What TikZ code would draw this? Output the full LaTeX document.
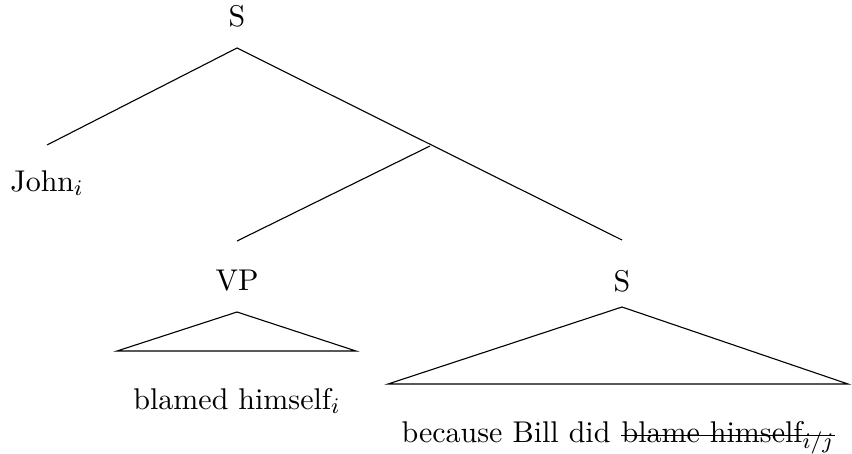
\documentclass[tikz,border=0pt]{standalone}
\tikzset{
  branch/.style={draw=black, line width=0.4pt},
  lab/.style={inner sep=0pt, font=\fontsize{10.8}{13}\selectfont}
}
\begin{document}
\begin{tikzpicture}[x=0.36pt, y=-0.36pt]
  \useasboundingbox (0,0) rectangle (852,453);
  % labels
  \node[lab] (root) at (237,16) {S};
  \node[lab] (john) at (47,183) {John$_i$};
  \node[lab] (vp) at (237,281) {VP};
  \node[lab] (s2) at (622,281) {S};
  \node[lab] (vpyield) at (237,401) {blamed himself$_i$};
  \node[lab, anchor=base west] (syield) at (401,442) {because Bill did\strut};
  \node[lab, anchor=base west] (deleted) at ([xshift=3.6pt]syield.base east) {blame himself$_{i/j}$};
  % strike-through over the deleted material
  \draw[branch] ([yshift=2.5pt]deleted.base west) -- ([yshift=2.5pt]deleted.base east);
  % branch end points
  \coordinate (rootbot) at (237,48);
  \coordinate (johntop) at (47,145);
  \coordinate (mid) at (430,146);
  \coordinate (vptop) at (237,241);
  \coordinate (s2top) at (622,240);
  % roof triangles
  \coordinate (vpapex) at (237,312);
  \coordinate (vpleft) at (117,351);
  \coordinate (vpright) at (356,351);
  \coordinate (sapex) at (622,307);
  \coordinate (sleft) at (388,384);
  \coordinate (sright) at (848,384);
  % tree branches
  \draw[branch] (johntop) -- (rootbot) -- (s2top);
  \draw[branch] (mid) -- (vptop);
  \draw[branch] (vpleft) -- (vpapex) -- (vpright) -- cycle;
  \draw[branch] (sleft) -- (sapex) -- (sright) -- cycle;
\end{tikzpicture}
\end{document}
